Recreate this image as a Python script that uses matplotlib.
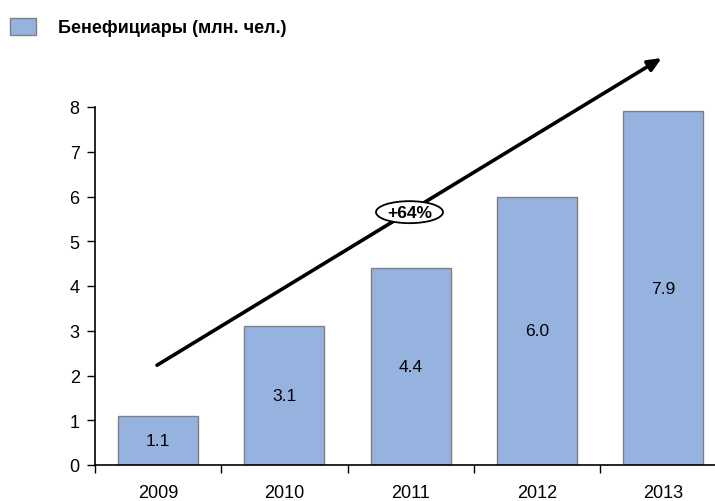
import numpy as np
from matplotlib import pyplot as plt
from matplotlib.patches import Ellipse, Rectangle

plt.rcParams['font.family'] = ['Liberation Sans', 'DejaVu Sans']

years = ["2009", "2010", "2011", "2012", "2013"]
values = [1.1, 3.1, 4.4, 6.0, 7.9]
legend_label = "Бенефициары (млн. чел.)"
growth_label = "+64%"

bar_color = "#95b3de"
edge_color = "#808080"

W, H = 715, 502
STEP, UNIT = 126.3, 44.75  # px per category, px per y unit
fig = plt.figure(figsize=(W / 100, H / 100), dpi=100)
# axes: left spine at x=95, y=0 at 466, y=8 at 108
ax = fig.add_axes([95 / W, (H - 466) / H, (W - 95) / W, (466 - 108) / H])

x = np.arange(len(years))
ax.bar(x, values, width=0.634, color=bar_color, edgecolor=edge_color, linewidth=1.0, zorder=2)
for xi, v in zip(x, values):
    ax.text(xi, v / 2, f"{v:.1f}", ha="center", va="center", fontsize=12.5)

ax.set_yticks(range(0, 9))
ax.tick_params(axis="y", direction="out", length=6, width=1, labelsize=13, pad=5)

ax.set_xticks(x)
ax.set_xticklabels(years, fontsize=13)
ax.set_xticks(np.arange(-0.5, 5, 1), minor=True)
ax.tick_params(axis="x", which="major", length=0, pad=14)
ax.tick_params(axis="x", which="minor", direction="out", length=6, width=1)

ax.set_xlim(-0.5, -0.5 + (W - 95) / STEP)
ax.set_ylim(0, 8)

for s in ("top", "right"):
    ax.spines[s].set_visible(False)
for s in ("left", "bottom"):
    ax.spines[s].set_linewidth(1.2)

# growth arrow
ax.annotate("", xy=(3.987, 9.095), xytext=(-0.009, 2.23),
            arrowprops=dict(arrowstyle="-|>,head_length=0.8,head_width=0.35",
                            color="black", lw=2.6, shrinkA=0, shrinkB=0),
            annotation_clip=False, zorder=3)

# "+64%" in an ellipse
ex, ey = 1.99, 5.65
ax.add_patch(Ellipse((ex, ey), 67 / STEP, 22 / UNIT, facecolor="white",
                     edgecolor="black", lw=1.3, zorder=4, clip_on=False))
ax.text(ex, ey, growth_label, ha="center", va="center", fontsize=12.5,
        fontweight="bold", zorder=5)

# legend
fig.patches.append(Rectangle((10 / W, 1 - 36 / H), 26 / W, 17 / H, transform=fig.transFigure,
                             facecolor=bar_color, edgecolor=edge_color, lw=1.0))
fig.text(58 / W, 1 - 28.5 / H, legend_label, ha="left", va="center", fontsize=13,
         fontweight="bold")

fig.savefig("out.png", dpi=100)
